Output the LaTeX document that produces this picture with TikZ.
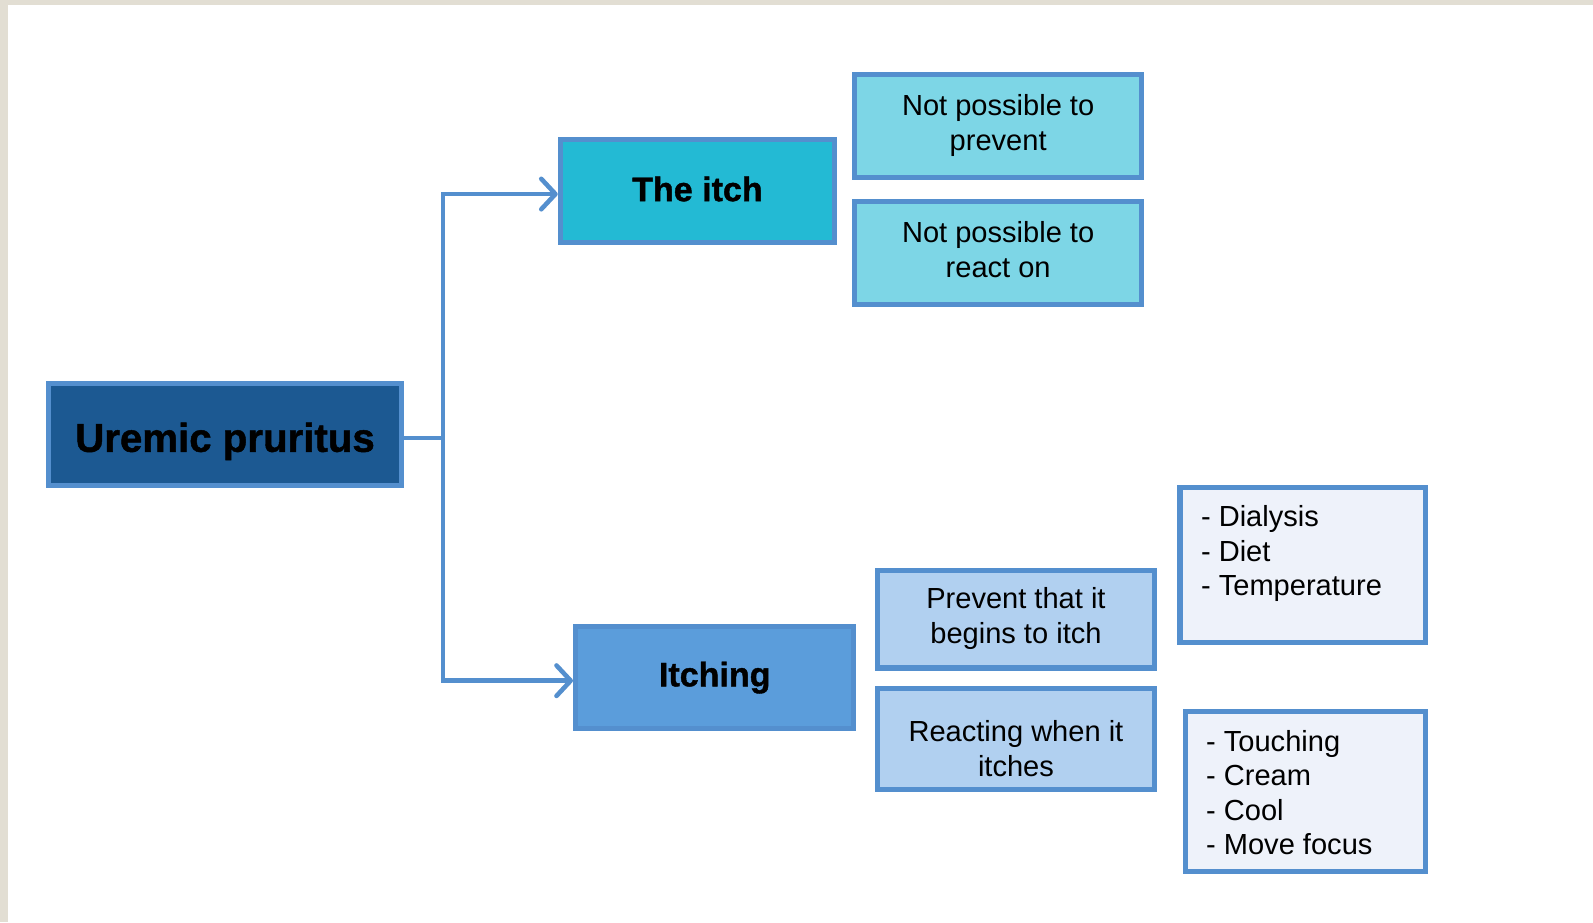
\documentclass[tikz,border=0pt]{standalone}
\usepackage{fontspec}
\setmainfont{Liberation Sans}
\usetikzlibrary{arrows.meta}
\definecolor{framegray}{RGB}{226,222,211}
\definecolor{edgeblue}{RGB}{84,143,206}
\definecolor{darkfill}{RGB}{28,89,146}
\definecolor{cyanfill}{RGB}{35,186,212}
\definecolor{lcyanfill}{RGB}{125,214,230}
\definecolor{midfill}{RGB}{91,157,219}
\definecolor{lbluefill}{RGB}{177,208,240}
\definecolor{palefill}{RGB}{238,242,250}
\newcommand{\heavy}{\bfseries\addfontfeature{FakeBold=1.2}}
\newcommand{\shifted}[2]{\raisebox{#1}[\height][\depth]{#2}}
\newcommand{\twolines}[3]{\raisebox{#1}[\height][\depth]{\begin{tabular}{@{}c@{}}#2\\#3\end{tabular}}}
\tikzset{
  box/.style={draw=edgeblue, line width=5pt, inner sep=0pt, align=center, text=black},
  bigtxt/.style={font=\fontsize{39.6}{46}\selectfont\heavy},
  midtxt/.style={font=\fontsize{33.5}{40}\selectfont\heavy},
  smalltxt/.style={font=\fontsize{28.6}{34}\selectfont},
  conn/.style={draw=edgeblue, line width=4.5pt, line join=miter},
  tip/.style={-{Straight Barb[length=14pt,width=30pt,round]}}
}
\begin{document}
\begin{tikzpicture}[x=1pt,y=-1pt]
\useasboundingbox (0,0) rectangle (1568,908);
\fill[white] (0,0) rectangle (1568,908);
\fill[framegray] (0,0) rectangle (1568,5);
\fill[framegray] (0,0) rectangle (8,908);

\node[box, fill=darkfill, bigtxt, minimum width=348pt, minimum height=100pt] (uremic) at (221.5,427.5) {\shifted{-7pt}{Uremic pruritus}};
\node[box, fill=cyanfill, midtxt, minimum width=270pt, minimum height=101pt] (itch) at (686.5,188) {\shifted{2pt}{The itch}};
\node[box, fill=lcyanfill, smalltxt, minimum width=282pt, minimum height=101pt] (npprev) at (982.5,124) {\twolines{0pt}{Not possible to}{prevent}};
\node[box, fill=lcyanfill, smalltxt, minimum width=282pt, minimum height=101pt] (npreact) at (982.5,249) {\twolines{0pt}{Not possible to}{react on}};
\node[box, fill=midfill, midtxt, minimum width=274pt, minimum height=101pt] (itching) at (703.5,667) {Itching};
\node[box, fill=lbluefill, smalltxt, minimum width=273pt, minimum height=96pt] (prevent) at (1000,609.5) {\twolines{0pt}{Prevent that it}{begins to itch}};
\node[box, fill=lbluefill, smalltxt, minimum width=273pt, minimum height=100pt] (react) at (1000,727.5) {\twolines{-13pt}{Reacting when it}{itches}};
\node[box, fill=palefill, minimum width=242pt, minimum height=153pt] (listprev) at (1282.5,556) {};
\node[box, fill=palefill, minimum width=237pt, minimum height=157pt] (listreact) at (1285,779) {};
\node[smalltxt, align=left, anchor=west, inner sep=0pt] (listprevtxt) at (1182,545) {- Dialysis\\- Diet\\- Temperature};
\node[smalltxt, align=left, anchor=west, inner sep=0pt] (listreacttxt) at (1187,780) {- Touching\\- Cream\\- Cool\\- Move focus};

\coordinate (j) at (436,431);
\coordinate (jt) at (436,191);
\coordinate (jb) at (436,670);
\draw[conn] (uremic.east |- j) -- (j);
\draw[conn, tip] (j) -- (jt) -- (itch.west |- jt);
\draw[conn, tip] (j) -- (jb) -- (itching.west |- jb);
\end{tikzpicture}
\end{document}
